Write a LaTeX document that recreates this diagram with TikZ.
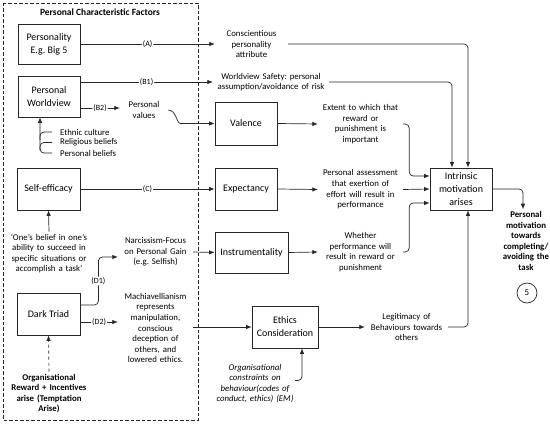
\documentclass[tikz,border=0pt]{standalone}
\usepackage{fontspec}
\setmainfont{Carlito}
\usetikzlibrary{arrows.meta,calc}
\frenchspacing
\tikzset{
  bx/.style={draw=black!85, line width=0.8pt, align=center, font=\fontsize{10}{13}\selectfont, inner sep=0pt},
  tx/.style={align=center, font=\fontsize{8.8}{10.6}\selectfont, inner xsep=0pt, inner ysep=2pt},
  txb/.style={tx, font=\fontsize{8.8}{10.6}\selectfont\bfseries},
  txi/.style={tx, font=\fontsize{8.8}{10.6}\selectfont\itshape},
  lab/.style={fill=white, font=\fontsize{8}{9}\selectfont, inner sep=1pt},
  con/.style={line width=0.7pt, draw=black!85, rounded corners=4pt, -{Latex[length=5.5pt,width=4.5pt]}},
  plain/.style={line width=0.7pt, draw=black!85, rounded corners=4pt},
}
\begin{document}
\begin{tikzpicture}[x=1pt,y=-1pt]
\useasboundingbox (0,0) rectangle (550,433);
% dashed group
\draw[line width=0.7pt, draw=black!85, dash pattern=on 3.5pt off 2pt] (3,3) rectangle (198,420);
\node[font=\fontsize{9.5}{11}\selectfont\bfseries] (title) at (100,12.5) {Personal Characteristic Factors};
% boxes
\node[bx, minimum width=62pt, minimum height=40pt] (pers) at (49,44) {Personality\\E.g. Big 5};
\node[bx, minimum width=62pt, minimum height=41pt] (wv) at (49,96.5) {Personal\\Worldview};
\node[bx, minimum width=63pt, minimum height=42pt] (se) at (48.5,189) {Self-efficacy};
\node[bx, minimum width=63pt, minimum height=42pt] (dt) at (48.5,314) {Dark Triad};
\node[bx, minimum width=62pt, minimum height=43pt] (val) at (246,123.5) {Valence};
\node[bx, minimum width=62pt, minimum height=42pt] (exp) at (246,189) {Expectancy};
\node[bx, minimum width=73pt, minimum height=41pt] (ins) at (251.5,252.5) {Instrumentality};
\node[bx, minimum width=66pt, minimum height=42pt] (eth) at (285,327) {Ethics\\Consideration};
\node[bx, minimum width=62pt, minimum height=42pt] (im) at (461,189) {Intrinsic\\motivation\\arises};
% texts
\node[tx, text width=73pt] (consc) at (251.5,44) {Conscientious\\personality\\attribute};
\node[tx, text width=116pt] (ws) at (271,82) {Worldview Safety: personal\\assumption/avoidance of risk};
\node[tx, text width=48pt] (pv) at (144,110) {Personal\\values};
\node[tx, text width=85pt] (ext) at (360.5,124) {Extent to which that\\reward or\\punishment is\\important};
\node[tx, text width=85pt] (pa) at (360.5,189.5) {Personal assessment\\that exertion of\\effort will result in\\performance};
\node[tx, text width=85pt] (wh) at (360.5,252) {Whether\\performance will\\result in reward or\\punishment};
\node[tx, text width=83pt] (leg) at (406.5,327) {Legitimacy of\\Behaviours towards\\others};
\node[tx, text width=75pt] (nar) at (155.5,252) {Narcissism-Focus\\on Personal Gain\\(e.g. Selfish)};
\node[tx, text width=75pt] (mach) at (155.5,328) {Machiavellianism\\represents\\manipulation,\\conscious\\deception of\\others, and\\lowered ethics.};
\node[tx, text width=90pt] (quote) at (49,253.5) {‘One’s belief in one’s\\ability to succeed in\\specific situations or\\accomplish a task’};
\node[txb, text width=90pt] (orgrew) at (49,393.5) {Organisational\\Reward + Incentives\\arise (Temptation\\Arise)};
\node[txi, text width=80pt] (org) at (255,383.5) {Organisational\\constraints on\\behaviour(codes of\\conduct, ethics) (EM)};
\node[txb, text width=60pt] (pm) at (526,241) {Personal\\motivation\\towards\\completing/\\avoiding the\\task};
\node[draw=black!85, line width=0.7pt, circle, minimum size=20pt, inner sep=0pt, font=\fontsize{9}{10}\selectfont] (five) at (527,293) {5};
\node[tx, anchor=west] (ec) at (60,132) {Ethnic culture};
\node[tx, anchor=west] (rb) at (60,142.5) {Religious beliefs};
\node[tx, anchor=west] (pb) at (60,153) {Personal beliefs};
% connectors
\draw[con] (pers.east) -- node[lab]{(A)} (consc.west);
\draw[con] ([yshift=14.5pt]wv.east) -- node[lab]{(B1)} (ws.west);
\draw[con] ([yshift=-11.5pt]wv.east) -- node[lab]{(B2)} ([yshift=2pt]pv.west);
\draw[con] (pv.east) to[out=0,in=180] ([xshift=-30pt]val.west) -- (val.west);
\draw[con] (val.east) -- (ext.west);
\draw[con] (ext.east) -- ++(6,0) |- ([yshift=13pt]im.west);
\draw[con] (exp.east) -- (pa.west);
\draw[con] (pa.east) -- (im.west);
\draw[con] (ins.east) -- (wh.west);
\draw[con] (wh.east) -- ++(6,0) |- ([yshift=-14pt]im.west);
\draw[con] (consc.east) -| ([xshift=7pt]im.north);
\draw[con] (ws.east) -| ([xshift=-9pt]im.north);
\draw[con] (im.east) -| ([xshift=-3pt]pm.north);
\draw[con] (se.east) -- node[lab]{(C)} (exp.west);
\draw[con] (quote.north) -- (se.south);
\draw[con] (nar.east) -- (ins.west);
\draw[con] ([yshift=9pt]dt.east) -- ++(18,0) |- node[lab,pos=0.25]{(D1)} ([yshift=-5pt]nar.west);
\draw[con] ([yshift=-8pt]dt.east) -- node[lab]{(D2)} ([yshift=6pt]mach.west);
\draw[con] (mach.east |- eth.west) -- (eth.west);
\draw[con] (eth.east) -- (leg.west);
\draw[con] (leg.east) -| ([xshift=7pt]im.south);
\draw[con] ([yshift=3pt]org.east) -| ([xshift=17pt]eth.south);
\draw[con, dashed] (orgrew.north) -- (dt.south);
% worldview influences
\draw[plain] ([xshift=-8pt]ec.west) -| ++(-12,8);
\draw[plain] ([xshift=-8pt]rb.west) -| ++(-12,8);
\draw[con] ([xshift=-8pt]pb.west) -| ([xshift=-9pt]wv.south);
\end{tikzpicture}
\end{document}
